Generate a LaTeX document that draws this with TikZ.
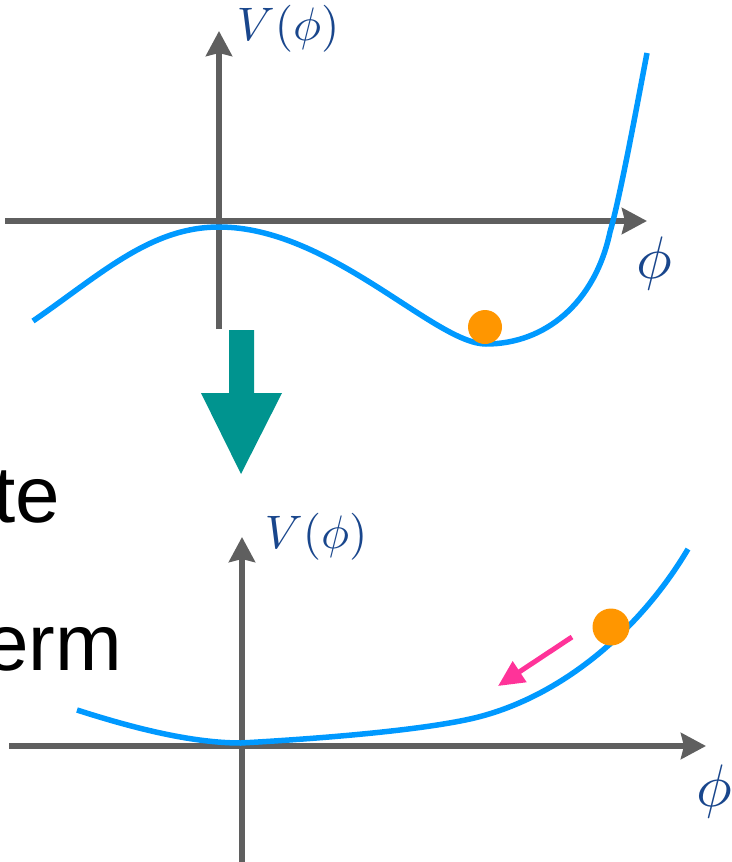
\documentclass[tikz,border=0pt]{standalone}
\usepackage{fontspec}
\newfontfamily\slidefont{Liberation Sans}
\usetikzlibrary{arrows.meta}
\definecolor{axisgray}{RGB}{95,95,95}
\definecolor{curveblue}{RGB}{0,153,255}
\definecolor{ballorange}{RGB}{255,150,0}
\definecolor{flowteal}{RGB}{0,148,143}
\definecolor{rollpink}{RGB}{255,51,153}
\definecolor{labelblue}{RGB}{25,70,140}
\tikzset{
  axisline/.style={line width=6pt, axisgray, -{Stealth[length=25pt,width=26pt,inset=3pt]}},
  potential/.style={line width=5.5pt, curveblue},
  ball/.style={fill=ballorange},
  vlabel/.style={labelblue, inner sep=0pt, scale=4.7},
  philabel/.style={labelblue, inner sep=0pt, scale=6},
  textfrag/.style={inner sep=0pt, font=\slidefont\fontsize{80}{96}\selectfont},
}
\begin{document}
\begin{tikzpicture}[x=1pt,y=-1pt]
  \useasboundingbox (0,0) rectangle (731,862);
  % upper potential
  \coordinate (A0) at (5,221);
  \coordinate (A1) at (647,221);
  \coordinate (B0) at (219,329);
  \coordinate (B1) at (219,31);
  \draw[axisline] (A0) -- (A1);
  \draw[axisline] (B0) -- (B1);
  \node[vlabel, anchor=base west] (V1) at (236,40) {$V(\phi)$};
  \node[philabel] (phi1) at (654,263) {$\phi$};
  \coordinate (T0) at (33,321);
  \coordinate (Tmax) at (219,227);
  \coordinate (Tmin) at (486,344);
  \coordinate (Tc) at (610,232);
  \coordinate (T1) at (647,53);
  \draw[potential] (T0) .. controls (100,275) and (150,227) .. (Tmax)
    .. controls (330,227) and (435,344) .. (Tmin)
    .. controls (545,344) and (595,303) .. (Tc)
    .. controls (620,198) and (638,100) .. (T1);
  \coordinate (M1) at (485,327);
  \fill[ball] (M1) circle (17pt);
  % transition arrow
  \fill[flowteal] (229,330) -- (254,330) -- (254,393) -- (282,393)
    -- (241,474) -- (201,393) -- (229,393) -- cycle;
  \node[textfrag, anchor=base east] (te) at (60,522) {te};
  \node[textfrag, anchor=base east] (erm) at (122,670) {erm};
  % lower potential
  \coordinate (C0) at (9,746);
  \coordinate (C1) at (706,746);
  \coordinate (D0) at (242,870);
  \coordinate (D1) at (242,537);
  \draw[axisline] (C0) -- (C1);
  \draw[axisline] (D0) -- (D1);
  \node[vlabel, anchor=base west] (V2) at (264,548) {$V(\phi)$};
  \node[philabel] (phi2) at (714,791) {$\phi$};
  \coordinate (S0) at (77,710);
  \coordinate (Smin) at (241,743);
  \coordinate (Sk) at (470,719);
  \coordinate (S1) at (688,549);
  \draw[potential] (S0) .. controls (130,727) and (190,743) .. (Smin)
    .. controls (330,738) and (420,730) .. (Sk)
    .. controls (560,699) and (640,630) .. (S1);
  \coordinate (M2) at (611,627);
  \coordinate (R0) at (572,637);
  \coordinate (R1) at (498,686);
  \draw[line width=5pt, rollpink, -{Triangle[length=26pt,width=24pt]}] (R0) -- (R1);
  \fill[ball] (M2) circle (18.5pt);
\end{tikzpicture}
\end{document}
